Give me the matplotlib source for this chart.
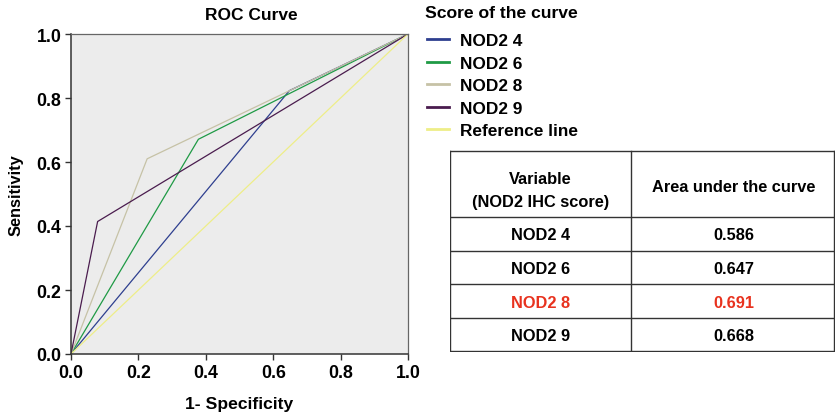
import matplotlib
matplotlib.use('Agg')
import matplotlib.pyplot as plt

plt.rcParams['font.family'] = ['Liberation Sans', 'DejaVu Sans']
plt.rcParams['font.weight'] = 'bold'

# ROC curve points (1-specificity, sensitivity)
nod2_4_x = [0.0, 0.648, 1.0]
nod2_4_y = [0.0, 0.823, 1.0]
nod2_6_x = [0.0, 0.378, 1.0]
nod2_6_y = [0.0, 0.671, 1.0]
nod2_8_x = [0.0, 0.226, 1.0]
nod2_8_y = [0.0, 0.610, 1.0]
nod2_9_x = [0.0, 0.079, 1.0]
nod2_9_y = [0.0, 0.414, 1.0]
ref_x = [0.0, 1.0]
ref_y = [0.0, 1.0]

variables = ['NOD2 4', 'NOD2 6', 'NOD2 8', 'NOD2 9']
auc = ['0.586', '0.647', '0.691', '0.668']
highlight = 'NOD2 8'

fig = plt.figure(figsize=(8.35, 4.14), dpi=100)
ax = fig.add_axes([71/835, 1 - 355/414, (408 - 71)/835, (355 - 35)/414])
ax.set_facecolor('#ececec')

ax.plot(nod2_4_x, nod2_4_y, color='#2e3f8f', lw=0.9, label='NOD2 4')
ax.plot(nod2_6_x, nod2_6_y, color='#1f9a45', lw=0.9, label='NOD2 6')
ax.plot(nod2_8_x, nod2_8_y, color='#c6c2a6', lw=0.9, label='NOD2 8')
ax.plot(nod2_9_x, nod2_9_y, color='#4a1c4e', lw=0.9, label='NOD2 9')
ax.plot(ref_x, ref_y, color='#eeee88', lw=0.9, label='Reference line')

ax.set_xlim(0, 1)
ax.set_ylim(0, 1)
ticks = [0.0, 0.2, 0.4, 0.6, 0.8, 1.0]
ax.set_xticks(ticks)
ax.set_yticks(ticks)
ax.set_xticklabels(['%.1f' % t for t in ticks], fontsize=12.8, fontweight='bold')
ax.set_yticklabels(['%.1f' % t for t in ticks], fontsize=12.8, fontweight='bold')
ax.tick_params(direction='out', length=4, width=1, color='#333333', pad=3)
for s in ['left', 'bottom']:
    ax.spines[s].set_color('#333333')
    ax.spines[s].set_linewidth(1.1)
for s in ['top', 'right']:
    ax.spines[s].set_color('#666666')
    ax.spines[s].set_linewidth(0.9)

ax.set_xlabel('1- Specificity', fontsize=12.6, fontweight='bold', labelpad=11)
ax.set_ylabel('Sensitivity', fontsize=11.8, fontweight='bold', labelpad=9)
fig.text(251/835, 1 - 15/414, 'ROC Curve', fontsize=12.5, fontweight='bold',
         ha='center', va='center')

handles, labels = ax.get_legend_handles_labels()
fig.text(425/835, 1 - 14/414, 'Score of the curve', fontsize=12.6, fontweight='bold',
         ha='left', va='center')
leg = fig.legend(handles, labels, loc='upper left', bbox_to_anchor=(422/835, 1 - 29/414),
                 frameon=False, alignment='left',
                 prop={'size': 12.4, 'weight': 'bold'},
                 handlelength=1.25, handletextpad=0.65, labelspacing=0.43,
                 borderaxespad=0, borderpad=0.3)
for h in leg.legend_handles:
    h.set_linewidth(2)

# table
tab = fig.add_axes([450/835, 1 - 353/414, (835 - 450)/835, (353 - 151)/414])
tab.set_xlim(0, 385)
tab.set_ylim(202, 0)
tab.axis('off')
lc = '#333333'
row_edges = [1, 67, 101, 134, 168, 201]
col_div = 181
right = 384
for y in row_edges:
    tab.plot([0, right], [y, y], color=lc, lw=1)
tab.plot([0, 0], [1, 201], color=lc, lw=1)
tab.plot([col_div, col_div], [1, 201], color=lc, lw=1)
tab.plot([right, right], [1, 201], color=lc, lw=1)

fs = 11.8
tab.text(col_div/2, 40, 'Variable\n(NOD2 IHC score)', ha='center', va='center',
         fontsize=fs, fontweight='bold', linespacing=1.7)
tab.text((col_div + right)/2 + 1, 36, 'Area under the curve', ha='center', va='center',
         fontsize=fs, fontweight='bold')
for i, (v, a) in enumerate(zip(variables, auc)):
    yc = (row_edges[i + 1] + row_edges[i + 2]) / 2 + 1
    c = '#e8321e' if v == highlight else 'black'
    tab.text(col_div/2, yc, v, ha='center', va='center', fontsize=fs,
             fontweight='bold', color=c)
    tab.text((col_div + right)/2 + 1, yc, a, ha='center', va='center', fontsize=fs,
             fontweight='bold', color=c)

fig.savefig('out.png', dpi=100)
